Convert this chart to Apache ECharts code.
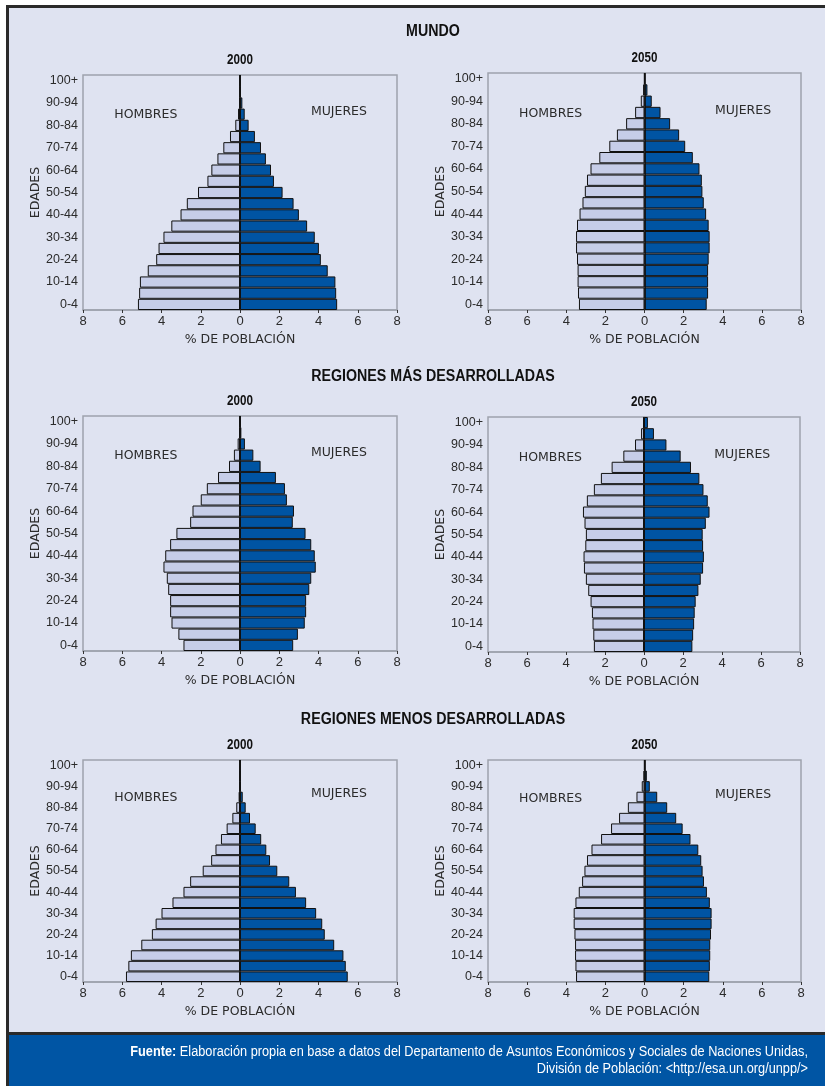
<!DOCTYPE html>
<html>
<head>
<meta charset="utf-8">
<script src="https://cdn.jsdelivr.net/npm/echarts@6/dist/echarts.min.js"></script>
<style>
  html, body { margin: 0; padding: 0; background: #ffffff; }
  #frame { position: absolute; left: 6px; top: 5px; width: 819px; height: 1081px;
           border-left: 3px solid #2a2a2a; border-top: 3px solid #2a2a2a; background: #dfe3f1; box-sizing: border-box; }
  #foot { position: absolute; left: 6px; top: 1032px; width: 819px; height: 54px;
          border-left: 3px solid #2a2a2a; border-top: 3px solid #2a2a2a; background: #0055a4; box-sizing: border-box; }
  #chart { position: absolute; left: 0; top: 0; width: 825px; height: 1086px; }
</style>
</head>
<body>
<div id="frame"></div>
<div id="foot"></div>
<div id="chart"></div>
<script>
// ---------- DATA ----------
var ages = ['0-4','5-9','10-14','15-19','20-24','25-29','30-34','35-39','40-44','45-49','50-54',
            '55-59','60-64','65-69','70-74','75-79','80-84','85-89','90-94','95-99','100+'];
var xTicks = [-8, -6, -4, -2, 0, 2, 4, 6, 8];

var mundo2000H = [5.2,5.14,5.1,4.7,4.27,4.15,3.9,3.5,3.03,2.71,2.14,1.66,1.46,1.15,0.85,0.51,0.24,0.1,0.03,0.01,0.002];
var mundo2000M = [4.95,4.9,4.86,4.47,4.12,4.02,3.81,3.42,3.0,2.73,2.17,1.73,1.58,1.32,1.07,0.76,0.44,0.24,0.12,0.03,0.005];
var mundo2050H = [3.35,3.4,3.42,3.42,3.45,3.5,3.5,3.45,3.32,3.17,3.05,2.94,2.76,2.31,1.8,1.41,0.94,0.48,0.19,0.07,0.01];
var mundo2050M = [3.18,3.25,3.25,3.25,3.28,3.33,3.33,3.28,3.15,3.03,2.96,2.93,2.81,2.47,2.08,1.77,1.31,0.82,0.37,0.15,0.02];
var masDes2000H = [2.88,3.14,3.49,3.56,3.56,3.66,3.73,3.9,3.81,3.56,3.24,2.54,2.42,2.0,1.69,1.12,0.56,0.31,0.12,0.03,0.005];
var masDes2000M = [2.71,2.95,3.3,3.37,3.37,3.53,3.63,3.86,3.81,3.63,3.34,2.69,2.75,2.39,2.29,1.83,1.05,0.68,0.25,0.07,0.01];
var masDes2050H = [2.57,2.6,2.64,2.67,2.74,2.86,2.98,3.08,3.1,3.01,2.98,3.05,3.13,2.93,2.57,2.21,1.66,1.06,0.46,0.15,0.05];
var masDes2050M = [2.48,2.52,2.57,2.6,2.65,2.79,2.91,3.03,3.07,3.03,3.01,3.17,3.36,3.27,3.05,2.84,2.41,1.88,1.15,0.51,0.2];
var menosDes2000H = [5.81,5.69,5.56,5.03,4.49,4.3,4.0,3.44,2.88,2.54,1.9,1.47,1.25,0.97,0.68,0.39,0.19,0.07,0.02,0.005,0.001];
var menosDes2000M = [5.49,5.39,5.27,4.8,4.32,4.19,3.88,3.37,2.85,2.51,1.9,1.53,1.34,1.08,0.8,0.51,0.29,0.14,0.05,0.01,0.002];
var menosDes2050H = [3.5,3.53,3.55,3.55,3.58,3.62,3.62,3.53,3.36,3.19,3.07,2.94,2.71,2.22,1.71,1.3,0.85,0.41,0.14,0.05,0.01];
var menosDes2050M = [3.31,3.34,3.36,3.36,3.4,3.43,3.43,3.34,3.19,3.04,2.97,2.9,2.75,2.35,1.95,1.62,1.16,0.65,0.27,0.12,0.02];

var sectionTitles = ['MUNDO', 'REGIONES MÁS DESARROLLADAS', 'REGIONES MENOS DESARROLLADAS'];
var years = ['2000', '2050'];
var menLabel = 'HOMBRES', womenLabel = 'MUJERES';
var xName = '% DE POBLACIÓN', yName = 'EDADES';

// ---------- LAYOUT ----------
var panels = [
  {men: mundo2000H, women: mundo2000M, year: years[0], left: 83, top: 75, width: 314, height: 235},
  {men: mundo2050H, women: mundo2050M, year: years[1], left: 488, top: 73, width: 313, height: 237},
  {men: masDes2000H, women: masDes2000M, year: years[0], left: 83, top: 416, width: 314, height: 235},
  {men: masDes2050H, women: masDes2050M, year: years[1], left: 488, top: 417, width: 312, height: 235},
  {men: menosDes2000H, women: menosDes2000M, year: years[0], left: 83, top: 760, width: 314, height: 222},
  {men: menosDes2050H, women: menosDes2050M, year: years[1], left: 488, top: 760, width: 313, height: 222}
];
var sectionY = [32, 377, 720];

var FONT = '"Liberation Sans", Arial, sans-serif';
var WIDE = '"DejaVu Sans", sans-serif';
var TXT = '#2b2b2b';

var grids = [], xAxes = [], yAxes = [], series = [], graphics = [];
panels.forEach(function (p, i) {
  grids.push({left: p.left, top: p.top, width: p.width, height: p.height, show: true,
              borderColor: '#9fa3ad', borderWidth: 1.5, backgroundColor: 'transparent'});
  xAxes.push({type: 'value', gridIndex: i, min: -8, max: 8, interval: 2,
              axisLine: {show: true, lineStyle: {color: '#9fa3ad', width: 1.5}},
              axisTick: {show: true, length: 3, lineStyle: {color: '#333'}},
              splitLine: {show: false},
              axisLabel: {margin: 5, color: TXT, fontFamily: FONT, fontSize: 13,
                          formatter: function (v) { return Math.abs(v); }},
              name: xName, nameLocation: 'middle', nameGap: 23,
              nameTextStyle: {color: TXT, fontFamily: WIDE, fontSize: 12.5}});
  yAxes.push({type: 'category', gridIndex: i, data: ages,
              axisLine: {show: true, lineStyle: {color: '#9fa3ad', width: 1.5}},
              axisTick: {show: false},
              axisLabel: {interval: 1, margin: 5, color: TXT, fontFamily: FONT, fontSize: 12.5},
              name: yName, nameLocation: 'middle', nameRotate: 90, nameGap: 38,
              nameTextStyle: {color: TXT, fontFamily: WIDE, fontSize: 12.5}});
  series.push({type: 'bar', xAxisIndex: i, yAxisIndex: i, stack: 'p' + i, barCategoryGap: '0%',
               data: p.men.map(function (v) { return -v; }),
               itemStyle: {color: '#c6cde8', borderColor: '#111', borderWidth: 1},
               silent: true});
  series.push({type: 'bar', xAxisIndex: i, yAxisIndex: i, stack: 'p' + i, barCategoryGap: '0%',
               data: p.women.slice(),
               itemStyle: {color: '#0054a3', borderColor: '#111', borderWidth: 1},
               silent: true,
               markLine: {silent: true, symbol: 'none', label: {show: false},
                          lineStyle: {color: '#111', width: 1.5, type: 'solid'},
                          data: [{xAxis: 0}]}});
  var cx = p.left + p.width / 2;
  graphics.push({type: 'text', x: cx, y: p.top - 15, scaleX: 0.83, style: {text: p.year, fill: '#111',
                 font: 'bold 14px ' + FONT, textAlign: 'center', textVerticalAlign: 'middle'}});
  graphics.push({type: 'text', x: p.left + p.width * 0.2, y: p.top + (i >= 4 ? 38 : 40) + (i % 2 ? 1 : 0),
                 style: {text: menLabel, fill: TXT, font: '12.5px ' + WIDE, textAlign: 'center', textVerticalAlign: 'middle'}});
  graphics.push({type: 'text', x: p.left + p.width * 0.815, y: p.top + (i >= 4 ? 34 : 37) + (i % 2 ? 1 : 0),
                 style: {text: womenLabel, fill: TXT, font: '12.5px ' + WIDE, textAlign: 'center', textVerticalAlign: 'middle'}});
});
sectionTitles.forEach(function (t, k) {
  graphics.push({type: 'text', x: 433, y: sectionY[k], scaleX: 0.89, style: {text: t, fill: '#111',
                 font: 'bold 16px ' + FONT, textAlign: 'center', textVerticalAlign: 'middle'}});
});
graphics.push({type: 'text', x: 808, y: 1052, scaleX: 0.91, style: {
  text: '{b|Fuente:} Elaboración propia en base a datos del Departamento de Asuntos Económicos y Sociales de Naciones Unidas,',
  rich: {b: {fontWeight: 'bold', fill: '#fff', fontFamily: FONT, fontSize: 14}},
  fill: '#fff', fontFamily: FONT, fontSize: 14, textAlign: 'right', textVerticalAlign: 'middle'}});
graphics.push({type: 'text', x: 808, y: 1069, scaleX: 0.91, style: {
  text: 'División de Población: <http://esa.un.org/unpp/>',
  fill: '#fff', fontFamily: FONT, fontSize: 14, textAlign: 'right', textVerticalAlign: 'middle'}});

var chart = echarts.init(document.getElementById('chart'));
chart.setOption({
  animation: false,
  backgroundColor: 'transparent',
  grid: grids, xAxis: xAxes, yAxis: yAxes, series: series,
  graphic: graphics
});
</script>
</body>
</html>
